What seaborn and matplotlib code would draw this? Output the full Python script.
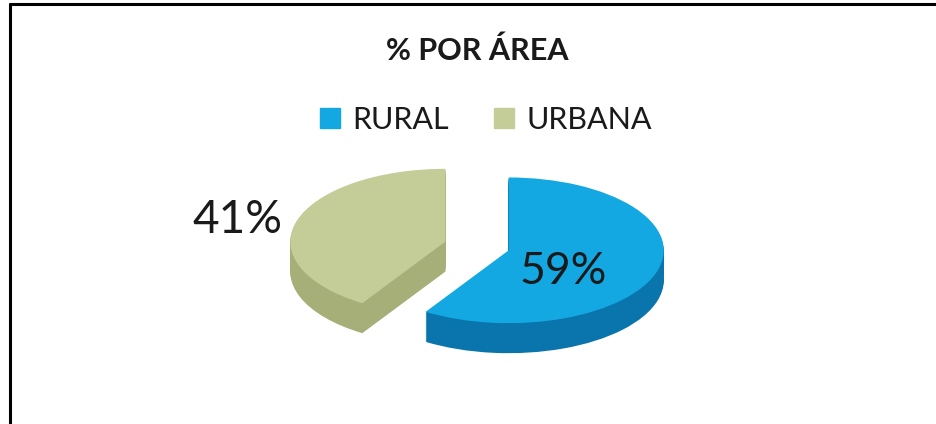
import matplotlib.pyplot as plt
import seaborn as sns
from matplotlib.patches import Patch
from matplotlib.lines import Line2D

# data
categories = ['RURAL', 'URBANA']
values = [59, 41]
pct_labels = ['59%', '41%']
top_colors = ['#14A8E2', '#C4CC98']
side_colors = ['#0A74AC', '#A7AF78']

sns.set_theme(style='white')
plt.rcParams['font.family'] = ['Lato', 'DejaVu Sans']

W, H = 937, 424
fig = plt.figure(figsize=(W / 100, H / 100), dpi=100)
fig.patch.set_facecolor('white')
ax = fig.add_axes([0, 0, 1, 1])

k = 0.47      # tilt: vertical squash of the pie
cx, cy = 477, 246   # pie centre in image pixels
r = 155
depth = 30
explode = [33, 33]   # pie takes explode in data units

def img_y(y):
    return (H - y) / k

# side of the extruded pie, stacked layers
for d in range(depth, 0, -1):
    ax.pie(values, colors=side_colors, startangle=90, counterclock=False,
           radius=r, center=(cx, img_y(cy + d)), explode=explode,
           wedgeprops=dict(linewidth=0), frame=True)

# top face
ax.pie(values, colors=top_colors, startangle=90, counterclock=False,
       radius=r, center=(cx, img_y(cy)), explode=explode,
       wedgeprops=dict(linewidth=0), frame=True)

ax.set_aspect('auto')
ax.set_xlim(0, W)
ax.set_ylim(0, H / k)
ax.axis('off')

# percentage labels
ax.text(563, img_y(272), pct_labels[0], ha='center', va='center',
        fontsize=32, color='#1a1a1a')
ax.text(237, img_y(220), pct_labels[1], ha='center', va='center',
        fontsize=33, color='#1a1a1a')

fig.text(477 / W, 1 - 51 / H, '% POR ÁREA', ha='center', va='center',
         fontsize=22, fontweight='bold', color='#1a1a1a')

handles = [Patch(color=c) for c in top_colors]
fig.legend(handles, categories, loc='center', bbox_to_anchor=(486 / W, 1 - 120 / H),
           ncol=2, frameon=False, fontsize=22, handlelength=0.65, handleheight=0.65,
           handletextpad=0.4, columnspacing=1.5, labelcolor='#1a1a1a')

# outer border (only top and left visible)
fig.add_artist(Line2D([10 / W, 10 / W], [0, 1 - 4 / H], transform=fig.transFigure,
                      color='black', lw=2.2))
fig.add_artist(Line2D([10 / W, 1], [1 - 4 / H, 1 - 4 / H], transform=fig.transFigure,
                      color='black', lw=2.2))

fig.savefig('out.png', dpi=100)
